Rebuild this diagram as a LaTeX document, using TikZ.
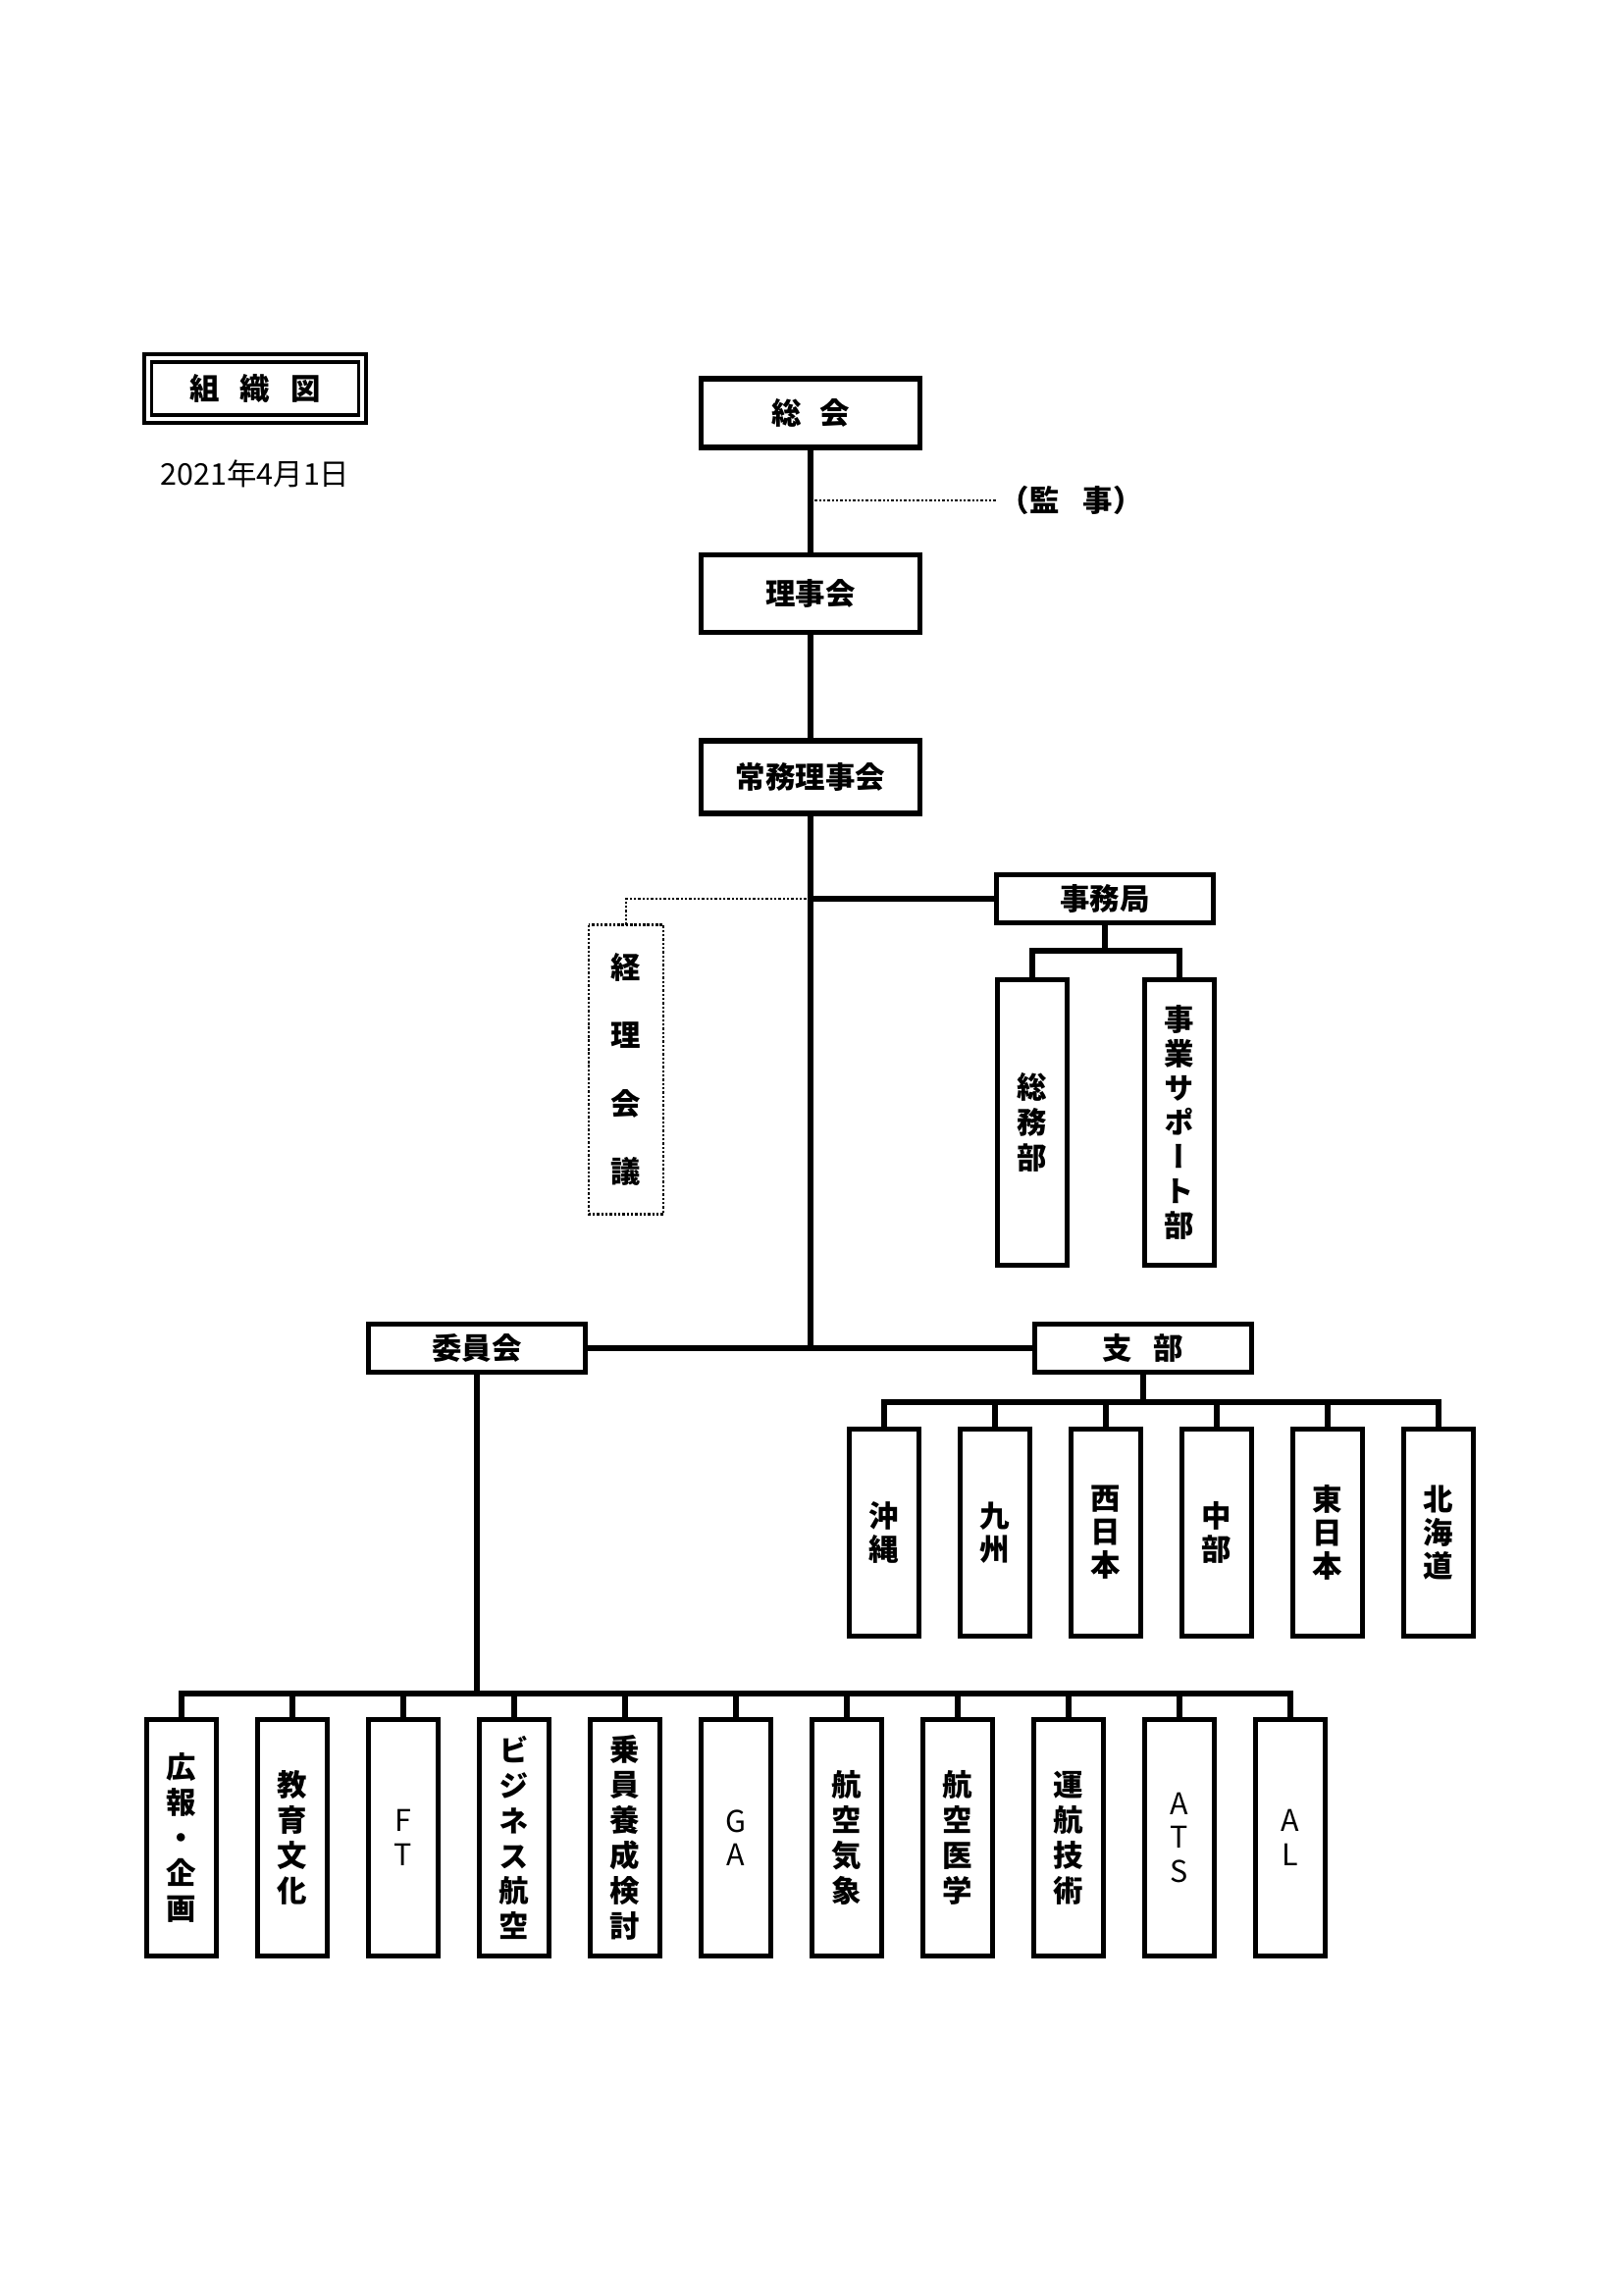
\documentclass[tikz,border=0pt]{standalone}
\usepackage{fontspec}
\setmainfont{Noto Sans CJK JP}
\newfontfamily\tatefont{Noto Sans CJK JP}[RawFeature=+vert]

\begin{document}
\begin{tikzpicture}[x=0.127mm, y=-0.127mm, line width=0.65mm,
    box/.style={draw, line width=0.65mm, inner sep=0pt, font=\fontsize{11}{13}\selectfont\bfseries},
    topbox/.style={box, minimum width=28.4mm, minimum height=9.6mm},
    midbox/.style={box, minimum width=28.1mm, minimum height=6.3mm},
    tatebox/.style={box, minimum width=9mm, align=center},
    kj/.style={font=\fontsize{11}{13}\selectfont\tatefont\bfseries},
    lt/.style={font=\fontsize{11}{12.5}\selectfont\tatefont\mdseries},
    dots/.style={line width=0.3mm, dash pattern=on 0.3mm off 0.25mm}]
    \useasboundingbox (0,0) rectangle (1654,2339);

    % title and date
    \node[draw, double, line width=0.5mm, double distance=0.5mm, inner sep=0pt,
          minimum width=27.8mm, minimum height=7.9mm,
          font=\fontsize{11}{13}\selectfont\bfseries] (title) at (260,396) {組\hspace{0.7em}織\hspace{0.7em}図};
    \node[font=\fontsize{11}{13}\selectfont] (date) at (260,483) {2021年4月1日};

    % main line
    \node[topbox, minimum height=8.9mm] (sokai) at (826,421) {総\hspace{0.6em}会};
    \node[topbox, minimum height=10mm] (rijikai) at (826,605) {理事会};
    \node[topbox, minimum height=9.4mm] (jomu) at (826,792) {常務理事会};
    \draw (sokai) -- (rijikai);
    \draw (rijikai) -- (jomu);

    % audit
    \coordinate (kansa) at (826,510);
    \node[inner sep=0pt, anchor=west, font=\fontsize{11}{13}\selectfont\bfseries] (kanji) at (1016,510) {（監\hspace{0.8em}事）};
    \draw[dots] (kansa) -- (kanji.west);

    % secretariat
    \coordinate (jbr) at (826,916);
    \node[midbox] (jimukyoku) at (1126,916) {事務局};
    \node[tatebox, kj, minimum height=37mm] (somu) at (1052,1144) {総\\務\\部};
    \node[tatebox, kj, minimum height=37mm, font=\fontsize{11}{12.6}\selectfont\tatefont\bfseries] (jigyo) at (1202,1144) {事\\業\\サ\\ポ\\ー\\ト\\部};
    \coordinate (jbar) at (1126,969);
    \draw (jbr) -- (jimukyoku.west);
    \draw (jimukyoku.south) -- (jbar);
    \draw (somu.north) |- (jbar) -| (jigyo.north);

    % accounting meeting
    \node[tatebox, minimum height=36.8mm, draw=none,
          font=\fontsize{11}{25}\selectfont\bfseries] (keiri) at (638,1090) {経\\理\\会\\議};
    \draw[dots, line width=0.35mm] (keiri.north west) rectangle (keiri.south east);
    \draw[dots] (jbr) -| (keiri.north);

    % committees and branches
    \coordinate (hub) at (826,1374);
    \node[midbox] (iinkai) at (486,1374) {委員会};
    \node[midbox] (shibu) at (1165,1374) {支\hspace{0.7em}部};
    \draw (jomu) -- (hub);
    \draw (iinkai) -- (shibu);

    % branches
    \coordinate (sbar) at (1165,1429);
    \foreach \n/\lbl in {0/沖\\縄, 1/九\\州, 2/西\\日\\本, 3/中\\部, 4/東\\日\\本, 5/北\\海\\道}
        \node[tatebox, kj, minimum height=26.9mm, font=\fontsize{11}{12.3}\selectfont\tatefont\bfseries] (sb\n) at ({901+113*\n},1562) {\lbl};
    \draw (shibu) -- (sbar);
    \draw (sb0.north) |- (sbar) -| (sb5.north);
    \foreach \n in {1,...,4}
        \draw (sb\n.north) -- (sb\n.north |- sbar);

    % committees
    \coordinate (ibar) at (486,1726);
    \foreach \n/\lbl/\sty in {0/広\\報\\・\\企\\画/kj, 1/教\\育\\文\\化/kj, 2/F\\T/lt,
            3/ビ\\ジ\\ネ\\ス\\航\\空/kj, 4/乗\\員\\養\\成\\検\\討/kj, 5/G\\A/lt,
            6/航\\空\\気\\象/kj, 7/航\\空\\医\\学/kj, 8/運\\航\\技\\術/kj,
            9/A\\T\\S/lt, 10/A\\L/lt}
        \node[tatebox, \sty, minimum height=30.5mm] (iin\n) at ({185+113*\n},1873) {\lbl};
    \draw (iinkai) -- (ibar);
    \draw (iin0.north) |- (ibar) -| (iin10.north);
    \foreach \n in {1,...,9}
        \draw (iin\n.north) -- (iin\n.north |- ibar);

\end{tikzpicture}
\end{document}
